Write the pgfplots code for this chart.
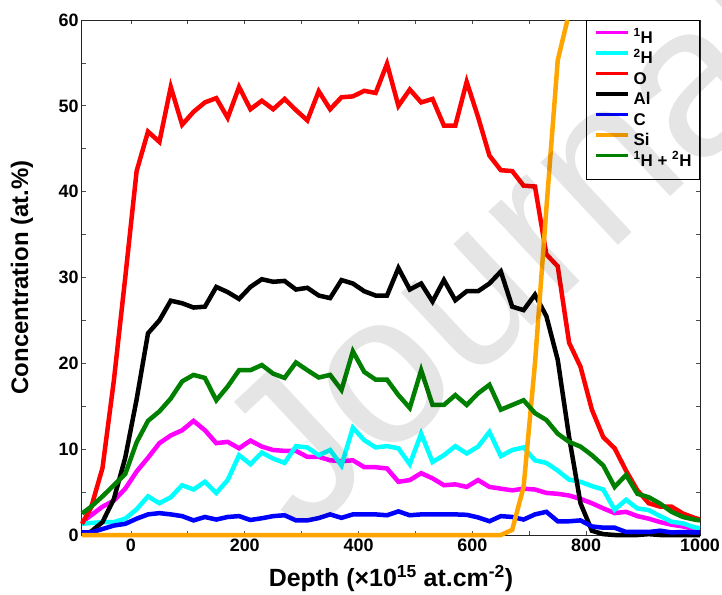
\documentclass[border=0pt]{standalone}
\usepackage{pgfplots}
\pgfplotsset{compat=1.18}
\usepackage{pgfplotstable}
\usepackage{fontspec}
\setmainfont{Liberation Sans}
\definecolor{cH}{RGB}{255,0,255}
\definecolor{cD}{RGB}{0,255,255}
\definecolor{cO}{RGB}{255,0,0}
\definecolor{cAl}{RGB}{0,0,0}
\definecolor{cC}{RGB}{0,0,255}
\definecolor{cSi}{RGB}{255,165,0}
\definecolor{cHD}{RGB}{0,128,0}
\pgfplotstableread{
x    H1    H2    O     Al    C     HD
-86  1.5   1.3   1.3   0.1   0.3   2.5
-70  2.3   1.4   3.2   0.4   0.3   3.3
-50  3.3   1.5   7.8   1.5   0.7   4.5
-30  4.0   1.5   18.0  4.2   1.1   5.8
-10  5.4   1.9   30.0  9.0   1.3   7.1
10   7.4   3.0   42.4  15.8  1.9   10.8
30   9.0   4.5   47.0  23.5  2.4   13.3
50   10.7  3.7   45.8  25.0  2.55  14.4
70   11.6  4.4   52.2  27.3  2.4   15.9
90   12.2  5.8   47.8  27.0  2.2   17.9
110  13.3  5.3   49.3  26.5  1.7   18.65
130  12.2  6.2   50.4  26.6  2.1   18.3
150  10.7  4.9   50.9  28.9  1.8   15.7
170  10.85 6.4   48.6  28.3  2.1   17.3
190  10.1  9.3   52.2  27.5  2.2   19.2
210  11.0  8.25  49.6  28.9  1.75  19.2
230  10.3  9.6   50.6  29.8  1.95  19.8
250  9.9   8.9   49.6  29.5  2.2   18.8
270  9.8   8.4   50.8  29.6  2.3   18.3
290  9.8   10.35 49.5  28.6  1.7   20.1
310  9.1   10.2  48.3  28.8  1.7   19.2
330  9.1   9.3   51.7  27.9  1.97  18.35
350  8.7   9.9   49.6  27.6  2.4   18.65
370  8.6   8.1   51.0  29.7  2.0   16.9
390  8.7   12.5  51.1  29.3  2.4   21.4
410  7.9   11.05 51.75 28.4  2.4   19.0
430  7.9   10.2  51.5  27.9  2.4   18.1
450  7.75  10.35 54.9  27.9  2.3   18.1
470  6.2   10.1  50.0  31.1  2.75  16.3
490  6.4   8.25  51.9  28.6  2.3   14.8
510  7.2   11.8  50.4  29.3  2.4   19.2
530  6.6   8.5   50.8  27.2  2.4   15.15
550  5.8   9.3   47.7  29.7  2.4   15.15
570  5.9   10.35 47.7  27.35 2.4   16.3
590  5.6   9.5   52.8  28.4  2.35  15.15
610  6.4   10.3  48.7  28.4  2.05  16.5
630  5.6   12.0  44.2  29.3  1.6   17.5
650  5.4   9.2   42.5  30.7  2.2   14.6
670  5.2   9.9   42.4  26.6  2.1   15.15
690  5.4   10.2  40.7  26.2  1.8   15.7
710  5.3   8.7   40.6  28.0  2.4   14.2
730  4.9   8.4   32.7  25.5  2.7   13.4
750  4.8   7.5   31.3  20.4  1.6   11.8
770  4.6   6.45  22.4  11.4  1.6   10.85
790  4.2   6.2   19.6  3.7   1.7   10.3
810  3.7   5.7   14.6  0.5   1.0   9.3
830  3.1   5.3   11.4  0.1   0.85  8.1
850  2.55  2.95  10.1  0.0   0.85  5.6
870  2.7   4.1   7.5   0.0   0.35  7.0
890  2.2   3.1   5.2   0.0   0.35  4.8
910  1.9   2.9   3.7   0.1   0.35  4.4
930  1.5   2.2   3.3   0.0   0.5   3.65
950  1.2   1.55  3.3   0.0   0.3   2.7
970  1.0   1.35  2.5   0.0   0.35  2.1
990  0.7   0.9   2.0   0.0   0.3   1.8
1000 0.6   0.8   1.8   0.0   0.3   1.7
}\depth
\pgfplotstableread{
x    Si
-86  0
650  0
670  0.6
690  5.6
710  20.0
730  38.0
750  55.3
767  60.0
}\silicon
\begin{document}
\begin{tikzpicture}
\useasboundingbox (-82bp,-60bp) rectangle (640bp,535bp);
\begin{axis}[
  scale only axis, width=618bp, height=515bp,
  at={(0,0)}, anchor=south west,
  xmin=-86, xmax=1000, ymin=0, ymax=60,
  clip=false,
  axis line style={line width=1bp, black!85},
  tick align=inside, major tick length=4bp,
  tick style={black!70, line width=0.8bp},
  xtick={0,100,...,1000}, xticklabels={0,,200,,400,,600,,800,,1000},
  ytick={0,5,...,60}, yticklabels={0,,10,,20,,30,,40,,50,,60},
  ticklabel style={font=\fontsize{18}{18}\selectfont\bfseries},
  /pgf/number format/assume math mode=true,
  xlabel={Depth (×10\textsuperscript{15} at.cm\textsuperscript{-2})},
  ylabel={Concentration (at.\%)},
  xlabel style={font=\fontsize{25}{25}\selectfont\bfseries, at={(axis description cs:0.5,-0.0835)}, anchor=center},
  ylabel style={font=\fontsize{24}{24}\selectfont\bfseries, at={(axis description cs:-0.097,0.5)}, anchor=center},
  every axis plot/.append style={line width=4.5bp},
  legend style={at={(1,1)}, anchor=north east, draw=black, line width=1bp,
    font=\fontsize{17}{17}\selectfont\bfseries, inner xsep=8bp, inner ysep=10bp,
    row sep=5bp, column sep=4bp,
    nodes={inner sep=0pt, text height=12.5bp, text depth=3bp}},
  legend cell align=left,
  legend image code/.code={\draw[#1, line width=3.5bp] (0bp,6bp) -- (32bp,6bp);},
]
\addplot[cH] table[x=x, y=H1] {\depth};
\addlegendentry{\textsuperscript{1}H}
\addplot[cD] table[x=x, y=H2] {\depth};
\addlegendentry{\textsuperscript{2}H}
\addplot[cO] table[x=x, y=O] {\depth};
\addlegendentry{O}
\addplot[cAl] table[x=x, y=Al] {\depth};
\addlegendentry{Al}
\addplot[cC] table[x=x, y=C] {\depth};
\addlegendentry{C}
\addplot[cSi] table[x=x, y=Si] {\silicon};
\addlegendentry{Si}
\addplot[cHD] table[x=x, y=HD] {\depth};
\addlegendentry{\textsuperscript{1}H + \textsuperscript{2}H}
\end{axis}
\node[rotate=43, anchor=base west, opacity=0.1, font=\fontsize{215}{215}\selectfont, inner sep=0pt] at (221bp,-5bp) {Journal Pre-proof};
\end{tikzpicture}
\end{document}
